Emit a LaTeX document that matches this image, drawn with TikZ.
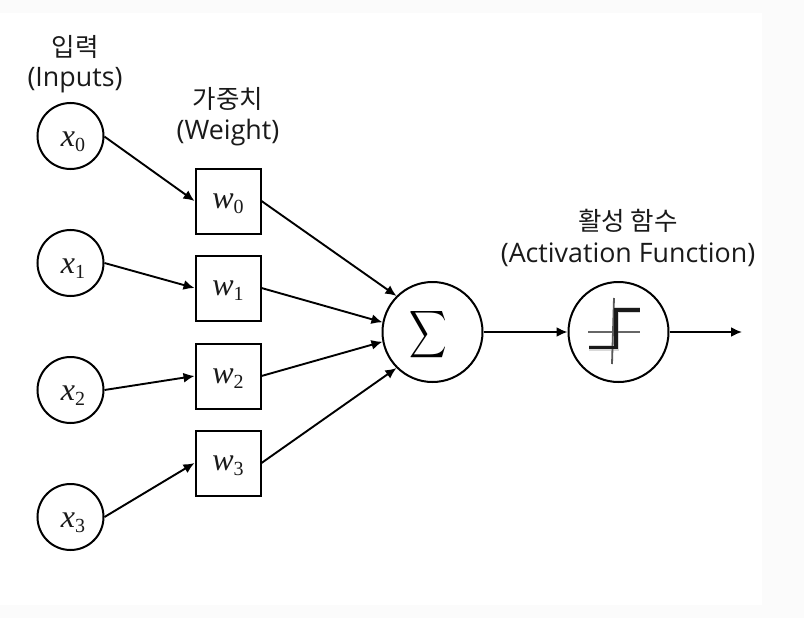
\documentclass[tikz,border=0pt]{standalone}
\usepackage{fontspec}
\usepackage{amsmath}
\usepackage{graphicx}
\setmainfont{Open Sans}
\newfontfamily\krfont{Noto Sans CJK KR}
\newfontfamily\varfont{Liberation Serif}
\newcommand{\varlabel}[2]{{\varfont\itshape #1\raisebox{-5pt}{\fontsize{20}{22}\selectfont\upshape #2}}}
\definecolor{ink}{HTML}{1A1A1A}
\definecolor{pagebg}{HTML}{FBFBFB}
\usetikzlibrary{arrows.meta}
\tikzset{
  unitcirc/.style={circle,draw=black,line width=2pt,minimum size=66pt,inner sep=0pt,fill=white},
  bigcirc/.style={circle,draw=black,line width=2pt,minimum size=100pt,inner sep=0pt,fill=white},
  weightbox/.style={rectangle,draw=black,line width=2pt,minimum size=65pt,inner sep=0pt,fill=white},
  conn/.style={draw=black,line width=1.9pt,-{Latex[length=11pt,width=10pt]}},
  mathlabel/.style={inner sep=0pt,text=ink,font=\fontsize{32}{36}\selectfont},
  kr/.style={inner sep=0pt,text=ink,font=\krfont\fontsize{25.5}{30}\selectfont},
  en/.style={inner sep=0pt,text=ink,font=\fontsize{26.8}{32}\selectfont}
}
\begin{document}
\begin{tikzpicture}[x=1pt,y=-1pt]
\useasboundingbox (0,0) rectangle (804,618);
\fill[pagebg] (0,0) rectangle (804,618);
\fill[white] (0,13) rectangle (762,605);
% inputs
\node[unitcirc] (x0) at (70.5,136) {};
\node[unitcirc] (x1) at (70.5,263) {};
\node[unitcirc] (x2) at (70.5,390) {};
\node[unitcirc] (x3) at (70.5,517) {};
\node[mathlabel] (lx0) at (73,142) {\varlabel{x}{0}};
\node[mathlabel] (lx1) at (73,269) {\varlabel{x}{1}};
\node[mathlabel] (lx2) at (73,396) {\varlabel{x}{2}};
\node[mathlabel] (lx3) at (73,523) {\varlabel{x}{3}};
% weights
\node[weightbox] (w0) at (228,201) {};
\node[weightbox] (w1) at (228,288) {};
\node[weightbox] (w2) at (228,376) {};
\node[weightbox] (w3) at (228,463) {};
\node[mathlabel] (lw0) at (228,204) {\varlabel{w}{0}};
\node[mathlabel] (lw1) at (228,291) {\varlabel{w}{1}};
\node[mathlabel] (lw2) at (228,379) {\varlabel{w}{2}};
\node[mathlabel] (lw3) at (228,466) {\varlabel{w}{3}};
% sum and activation
\node[bigcirc] (sum) at (432.5,332) {};
\node[inner sep=0pt] (sigma) at (428,335) {\scalebox{2.6}[3.3]{$\displaystyle\sum$}};
\node[bigcirc] (act) at (618.5,332) {};
\coordinate (out) at (742,332);
% activation icon
\draw[gray!30,line width=6pt] (589,347.5) -- (616,347.5) -- (616,310) -- (640,310);
\draw[black!60,line width=1.8pt] (588,332) -- (640,332);
\draw[black!65,line width=1.8pt] (614,298) -- (612,364);
\draw[black!90,line width=3.4pt] (589,347.5) -- (616,347.5) -- (616,310) -- (640,310);
% connectors
\draw[conn] (x0.-1) -- (w0.west);
\draw[conn] (x1.east) -- (w1.west);
\draw[conn] (x2.east) -- (w2.west);
\draw[conn] (x3.east) -- (w3.west);
\draw[conn] (w0.east) -- (sum.135);
\draw[conn] (w1.east) -- (sum.169);
\draw[conn] (w2.east) -- (sum.191);
\draw[conn] (w3.east) -- (sum.225);
\draw[conn] (sum.east) -- (act.west);
\draw[conn] (act.east) -- (out);
% captions
\node[kr] (c1) at (75,47) {입력};
\node[en] (c1b) at (75,80) {(Inputs)};
\node[kr] (c2) at (228,99) {가중치};
\node[en] (c2b) at (228,133) {(Weight)};
\node[kr] (c3) at (628,221) {활성 함수};
\node[en] (c3b) at (628,255) {(Activation Function)};
\end{tikzpicture}
\end{document}
